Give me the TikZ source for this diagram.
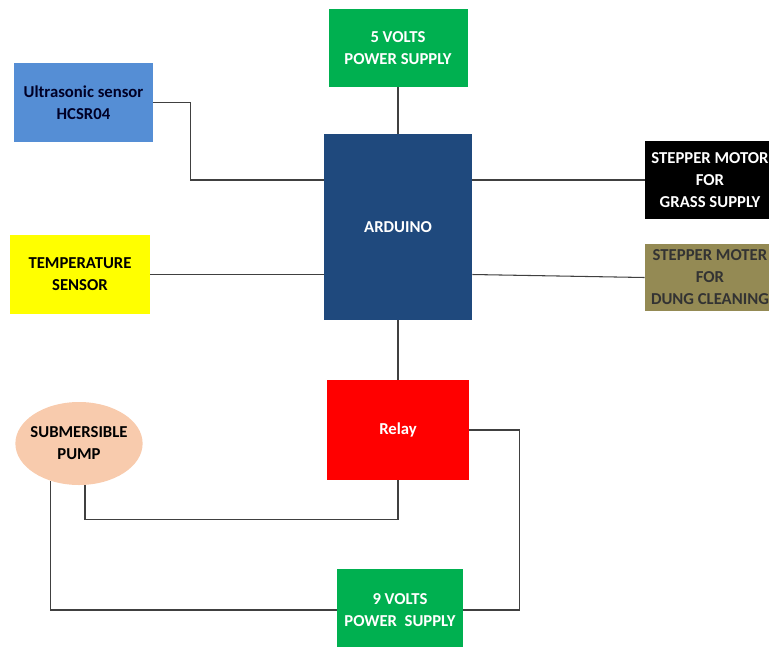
\documentclass[tikz,border=0pt]{standalone}
\usepackage{fontspec}
\setmainfont{Carlito}
\usepackage{tikz}
\usetikzlibrary{positioning,calc,shapes.geometric}
\definecolor{boardBlue}{HTML}{1F497D}
\definecolor{supplyGreen}{HTML}{00B050}
\definecolor{sensorBlue}{HTML}{558ED5}
\definecolor{sensorYellow}{HTML}{FFFF00}
\definecolor{motorOlive}{HTML}{948A54}
\definecolor{relayRed}{HTML}{FF0000}
\definecolor{pumpPeach}{HTML}{F8CBAD}
\definecolor{wireGray}{HTML}{404040}

\begin{document}
\begin{tikzpicture}[
    every node/.style={font=\bfseries\fontsize{9.5}{12.5}\selectfont, align=center},
    block/.style={draw=none, minimum width=2.78cm, minimum height=1.56cm, inner sep=1pt},
    supply/.style={block, fill=supplyGreen, text=white},
    motor/.style={block, minimum width=2.6cm},
    wire/.style={draw=wireGray, line width=0.6pt}
  ]
    \useasboundingbox (0,0) rectangle (15.38,-12.92);

    \node[supply] (fivev) at (7.96,-0.96) {5 VOLTS\\POWER SUPPLY};
    \node[block, fill=boardBlue, text=white, minimum width=2.96cm, minimum height=3.72cm] (arduino) at (7.96,-4.54) {ARDUINO};
    \node[block, fill=sensorBlue, text=black!85!blue, minimum height=1.58cm] (ultra) at (1.67,-2.05) {Ultrasonic sensor\\HCSR04};
    \node[block, fill=sensorYellow, text=black, minimum width=2.8cm, minimum height=1.58cm] (temp) at (1.6,-5.49) {TEMPERATURE\\SENSOR};
    \node[motor, fill=black, text=white] (grass) at (14.2,-3.6) {STEPPER MOTOR\\FOR\\GRASS SUPPLY};
    \node[motor, fill=motorOlive, text=black!80, minimum height=1.34cm] (dung) at (14.2,-5.55) {STEPPER MOTER\\FOR\\DUNG CLEANING};
    \node[block, fill=relayRed, text=white, minimum width=2.84cm, minimum height=2cm] (relay) at (7.96,-8.6) {Relay};
    \node[ellipse, fill=pumpPeach, text=black, minimum width=2.52cm, minimum height=1.66cm, inner xsep=-2pt, inner ysep=0pt] (pump) at (1.58,-8.87) {SUBMERSIBLE\\PUMP};
    \node[supply, minimum width=2.52cm, minimum height=1.64cm] (ninev) at (8.0,-12.2) {9 VOLTS\\POWER~ SUPPLY};

    \draw[wire] (fivev) -- (arduino);
    \draw[wire] (ultra.east) -- ++(0.74,0) |- (arduino.west |- grass);
    \draw[wire] (temp.east) -- (arduino.west |- temp);
    \draw[wire] (arduino.east |- grass) -- (grass.west);
    \draw[wire] (arduino.east |- temp) -- (dung.west);
    \draw[wire] (arduino) -- (relay);
    \draw[wire] (relay.south) -- ++(0,-0.78) -| ([xshift=1.2mm]pump.south);
    \draw[wire] (relay.east) -- ++(1.0,0) |- (ninev.east);
    \draw[wire] (ninev.west) -| (pump.233);
  \end{tikzpicture}
\end{document}
